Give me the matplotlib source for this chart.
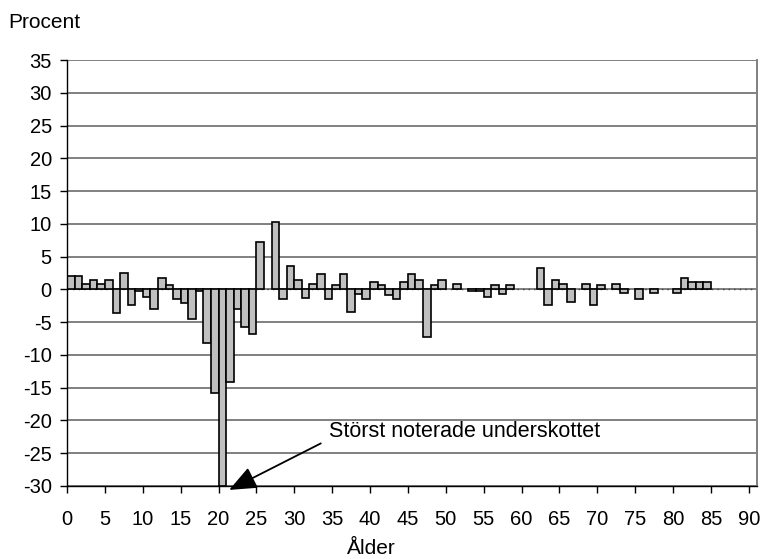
import numpy as np
import matplotlib
matplotlib.use('Agg')
import matplotlib.pyplot as plt

plt.rcParams['font.family'] = ['Liberation Sans', 'DejaVu Sans']
plt.rcParams['axes.unicode_minus'] = False

#Ages 0..85, nan where no bar is drawn
ages = np.arange(0, 86)
nan = np.nan
values = [2.1, 2.1, 0.9, 1.5, 0.9, 1.5, -3.6, 2.5, -2.4, -0.2,
          -1.2, -3.0, 1.8, 0.7, -1.5, -2.1, -4.5, -0.2, -8.2, -15.8,
          -30.0, -14.2, -3.0, -5.8, -6.8, 7.3, nan, 10.3, -1.5, 3.6,
          1.5, -1.3, 0.9, 2.4, -1.5, 0.6, 2.4, -3.4, -0.7, -1.5,
          1.2, 0.6, -0.9, -1.5, 1.2, 2.4, 1.5, -7.3, 0.6, 1.5,
          nan, 0.9, nan, -0.2, -0.2, -1.2, 0.6, -0.7, 0.6, nan,
          nan, nan, 3.3, -2.4, 1.5, 0.9, -1.9, nan, 0.9, -2.4,
          0.6, nan, 0.9, -0.6, nan, -1.5, nan, -0.6, nan, nan,
          -0.6, 1.8, 1.2, 1.2, 1.2, nan]

yticks = np.arange(-30, 36, 5)
xticks = np.arange(0, 91, 5)

fig = plt.figure(figsize=(7.67, 5.59), dpi=100)
ax = fig.add_axes([0.0875, 0.1306, 0.8995, 0.762])

ax.set_ylim(-30, 35)
ax.set_xlim(0, 91.1)
ax.set_yticks(yticks)
ax.set_xticks(xticks)
ax.yaxis.grid(True, color='#808080', lw=1.4, zorder=0)
ax.set_axisbelow(True)

#dotted zero line
ax.axhline(0, color='#404040', lw=1.0, ls=(0, (1, 3)), zorder=1)

ax.bar(ages, values, width=1.0, align='edge', color='#c0c0c0',
       edgecolor='black', lw=1.2, zorder=2)

ax.spines['top'].set_visible(False)
ax.spines['right'].set_color('#808080')
ax.spines['right'].set_linewidth(1.4)
ax.spines['left'].set_linewidth(1.0)
ax.spines['bottom'].set_linewidth(1.0)
ax.tick_params(axis='both', direction='out', length=5, width=1.0,
               labelsize=14.5)
ax.tick_params(axis='y', pad=6)
ax.tick_params(axis='x', pad=12)

#annotation
ax.annotate('', xy=(21.4, -30.6), xytext=(33.5, -23.5),
            arrowprops=dict(arrowstyle='-|>,head_length=1.2,head_width=0.5',
                            color='black', lw=1.3, shrinkA=0, shrinkB=0),
            fontsize=14, annotation_clip=False)
ax.text(34.6, -21.7, 'Störst noterade underskottet', fontsize=15.5,
        ha='left', va='center')

fig.text(8/767, 1-23/559, 'Procent', fontsize=15, ha='left', va='center')
fig.text(371/767, 1-549/559, 'Ålder', fontsize=15, ha='center', va='center')

plt.savefig('out.png', dpi=100)
